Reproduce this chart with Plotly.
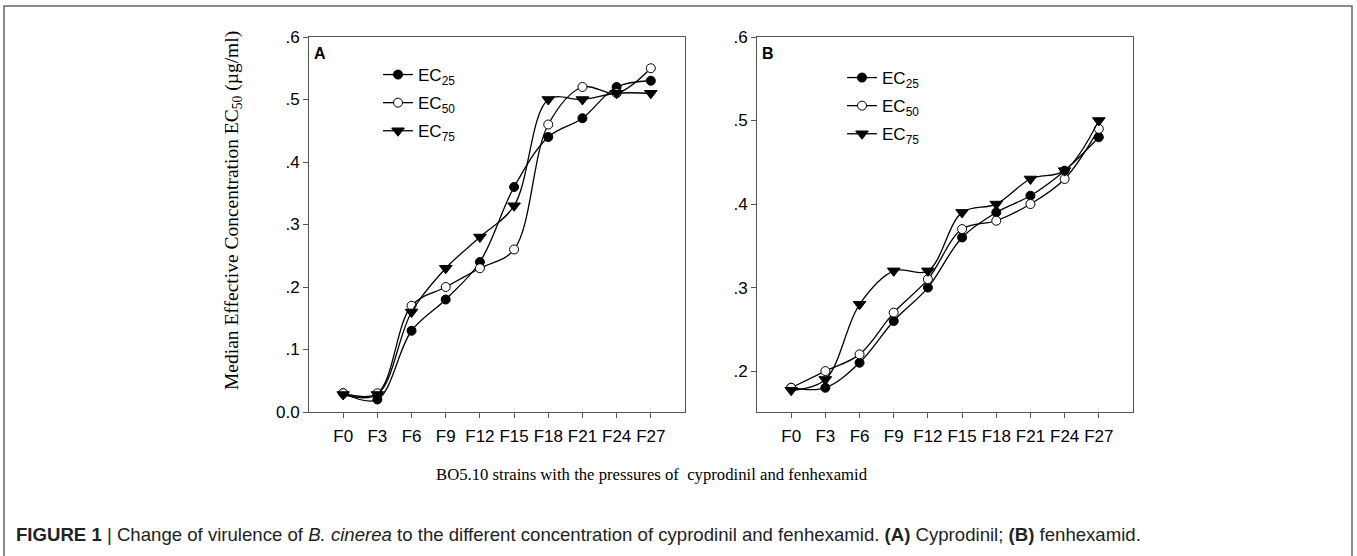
import plotly.graph_objects as go

W, H = 1357, 556

categories = ["F0", "F3", "F6", "F9", "F12", "F15", "F18", "F21", "F24", "F27"]

# Panel A: cyprodinil
a_ec25 = [0.03, 0.02, 0.13, 0.18, 0.24, 0.36, 0.44, 0.47, 0.52, 0.53]
a_ec50 = [0.03, 0.03, 0.17, 0.20, 0.23, 0.26, 0.46, 0.52, 0.51, 0.55]
a_ec75 = [0.028, 0.028, 0.16, 0.23, 0.28, 0.33, 0.50, 0.50, 0.51, 0.51]

# Panel B: fenhexamid
b_ec25 = [0.18, 0.18, 0.21, 0.26, 0.30, 0.36, 0.39, 0.41, 0.44, 0.48]
b_ec50 = [0.18, 0.20, 0.22, 0.27, 0.31, 0.37, 0.38, 0.40, 0.43, 0.49]
b_ec75 = [0.177, 0.19, 0.28, 0.32, 0.32, 0.39, 0.40, 0.43, 0.44, 0.50]

series_names = ["EC<sub>25</sub>", "EC<sub>50</sub>", "EC<sub>75</sub>"]

a_yticks = [0.0, 0.1, 0.2, 0.3, 0.4, 0.5, 0.6]
a_yticktext = ["0.0", ".1", ".2", ".3", ".4", ".5", ".6"]
b_yticks = [0.2, 0.3, 0.4, 0.5, 0.6]
b_yticktext = [".2", ".3", ".4", ".5", ".6"]

y_title = "Median Effective Concentration EC<sub>50</sub> (\u00b5g/ml)"
x_caption = "BO5.10 strains with the pressures of \u00a0cyprodinil and fenhexamid"
fig_caption = ("<b>FIGURE 1</b> | Change of virulence of <i>B. cinerea</i> to the different "
               "concentration of cyprodinil and fenhexamid. <b>(A)</b> Cyprodinil; "
               "<b>(B)</b> fenhexamid.")

styles = [
    dict(symbol="circle", size=9, color="black", line=dict(color="black", width=1)),
    dict(symbol="circle", size=9, color="white", line=dict(color="black", width=1)),
    dict(symbol="triangle-down", size=11, color="black", line=dict(color="black", width=1)),
]

fig = go.Figure()

SANS = "Liberation Sans, Arial, sans-serif"
SERIF = "Liberation Serif, Times New Roman, serif"

for i, (vals, name, st) in enumerate(zip([a_ec25, a_ec50, a_ec75], series_names, styles)):
    fig.add_trace(go.Scatter(x=categories, y=vals, name=name, mode="lines+markers",
                             line=dict(color="black", width=1.3, shape="spline", smoothing=1.0),
                             marker=st, xaxis="x", yaxis="y", legend="legend",
                             legendgroup="a%d" % i))
for i, (vals, name, st) in enumerate(zip([b_ec25, b_ec50, b_ec75], series_names, styles)):
    fig.add_trace(go.Scatter(x=categories, y=vals, name=name, mode="lines+markers",
                             line=dict(color="black", width=1.3, shape="spline", smoothing=1.0),
                             marker=st, xaxis="x2", yaxis="y2", legend="legend2",
                             legendgroup="b%d" % i))

def px_x(p):
    return p / W

def px_y(p):
    return 1 - p / H

ydom = [px_y(412), px_y(37)]
axis_common = dict(showline=True, linecolor="#555", linewidth=1, mirror=True,
                   ticks="outside", ticklen=5, tickcolor="#555", showgrid=False,
                   zeroline=False, automargin=False,
                   tickfont=dict(family=SANS, size=17, color="black"))

legend_common = dict(xanchor="left", yanchor="top", bgcolor="rgba(0,0,0,0)",
                     font=dict(family=SANS, size=17, color="black"),
                     itemwidth=30, tracegroupgap=3)

fig.update_layout(
    width=W, height=H, autosize=False,
    margin=dict(l=0, r=0, t=0, b=0),
    paper_bgcolor="white", plot_bgcolor="white",
    xaxis=dict(domain=[px_x(309), px_x(685)], type="category", range=[-1, 10],
               anchor="y", ticklabelstandoff=4, **axis_common),
    yaxis=dict(domain=ydom, range=[0, 0.6], tickvals=a_yticks, ticktext=a_yticktext,
               anchor="x", **axis_common),
    xaxis2=dict(domain=[px_x(757), px_x(1133)], type="category", range=[-1, 10],
                anchor="y2", ticklabelstandoff=4, **axis_common),
    yaxis2=dict(domain=ydom, range=[0.151, 0.6], tickvals=b_yticks, ticktext=b_yticktext,
                anchor="x2", **axis_common),
    legend=dict(x=px_x(378), y=px_y(57), **legend_common),
    legend2=dict(x=px_x(842), y=px_y(60), **legend_common),
    showlegend=True,
)

annotations = [
    dict(text="<b>A</b>", xref="x domain", yref="y domain", x=0.008, y=0.985,
         xanchor="left", yanchor="top", showarrow=False,
         font=dict(family=SANS, size=16, color="black")),
    dict(text="<b>B</b>", xref="x2 domain", yref="y2 domain", x=0.008, y=0.985,
         xanchor="left", yanchor="top", showarrow=False,
         font=dict(family=SANS, size=16, color="black")),
    dict(text=y_title, xref="paper", yref="paper", x=px_x(233), y=px_y(211),
         xanchor="center", yanchor="middle", textangle=-90, showarrow=False,
         font=dict(family=SERIF, size=19.5, color="black")),
    dict(text=x_caption, xref="paper", yref="paper", x=px_x(652), y=px_y(474),
         xanchor="center", yanchor="middle", showarrow=False,
         font=dict(family=SERIF, size=16.7, color="black")),
    dict(text=fig_caption, xref="paper", yref="paper", x=px_x(14), y=px_y(534),
         xanchor="left", yanchor="middle", showarrow=False,
         font=dict(family=SANS, size=18.6, color="#222")),
]
fig.update_layout(annotations=annotations)

fig.add_shape(type="rect", xref="paper", yref="paper",
              x0=px_x(4), x1=px_x(1352), y0=-0.2, y1=px_y(6),
              line=dict(color="#666", width=1.5), fillcolor="rgba(0,0,0,0)", layer="below")

fig.write_html("out.html", config={"displayModeBar": False},
               post_script="document.body.style.margin='0';document.body.style.overflow='hidden';")
